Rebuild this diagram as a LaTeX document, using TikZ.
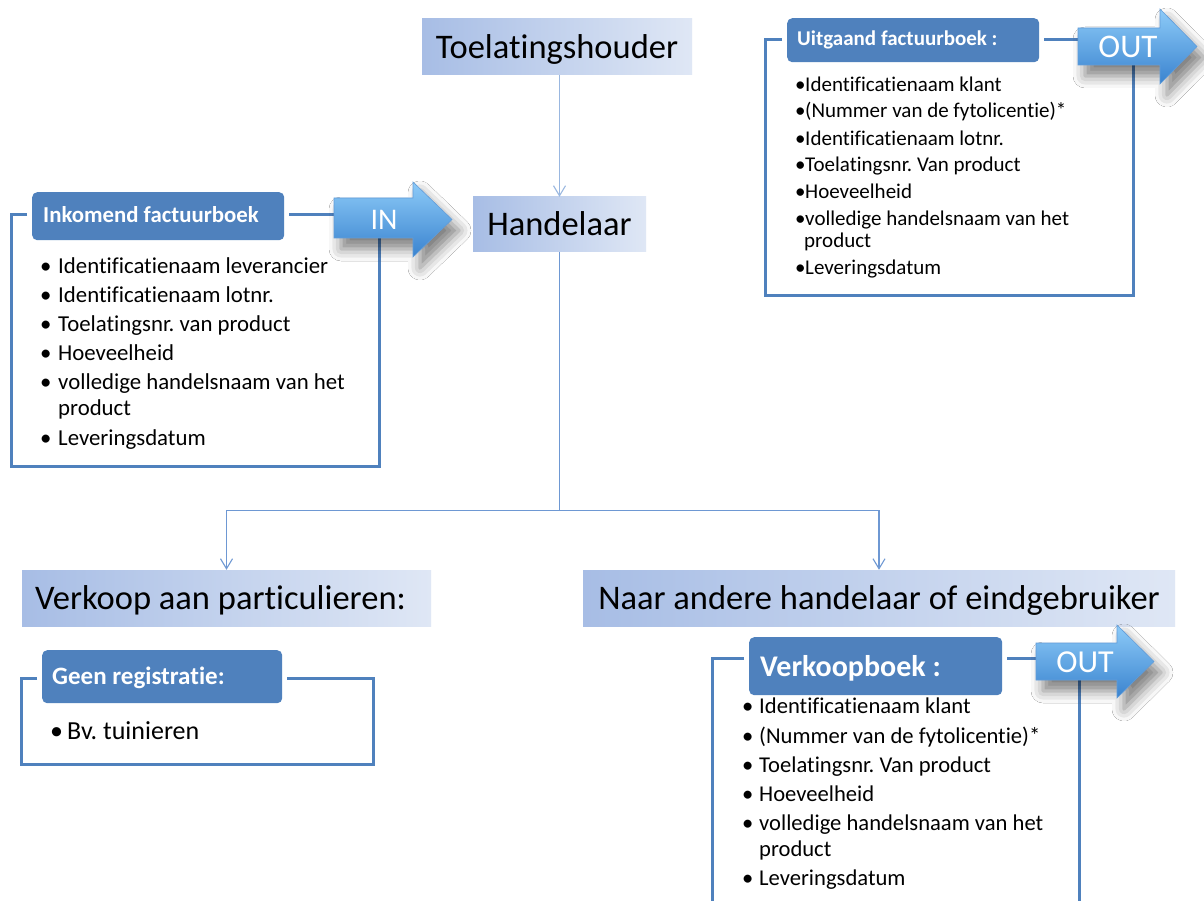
\documentclass[tikz,border=0pt]{standalone}
\usepackage{fontspec}
\setmainfont{Carlito}[Ligatures=NoCommon]
\usetikzlibrary{arrows.meta,shadows.blur}
\definecolor{hblue}{HTML}{4F81BD}
\definecolor{tdark}{HTML}{A7BDE5}
\definecolor{tlight}{HTML}{DFE7F5}
\definecolor{conncol}{HTML}{6E98D3}
\definecolor{arrtop}{HTML}{8DCBF8}
\definecolor{arrbot}{HTML}{3A83CF}
\newcommand\fsz[1]{\fontsize{#1}{#1}\selectfont}
\frenchspacing
\begin{document}
\begin{tikzpicture}[x=1pt,y=-1pt,
  titlebox/.style={left color=tdark,right color=tlight,inner sep=0pt,font=\fsz{34.5},text height=22.5pt,text depth=0pt},
  conn/.style={draw=conncol,line width=1.1pt},
  barb/.style={-{Straight Barb[length=10pt,width=12pt]}},
  frame/.style={draw=hblue,line width=3pt},
  hdr/.style={fill=hblue,rounded corners=5pt,inner sep=0pt,anchor=north west},
  hdrtext/.style={text=white,font=\bfseries,anchor=base west,inner sep=0pt},
  item/.style={anchor=base west,inner sep=0pt},
  fatarrow/.style={top color=arrtop,bottom color=arrbot,draw=arrbot!80!white,line width=0.6pt,
    blur shadow={shadow xshift=7pt,shadow yshift=-11pt,shadow blur radius=12pt,shadow opacity=50}},
  arrtext/.style={text=white,inner sep=0pt}
]
\fill[white] (0,0) rectangle (1204,901);
\useasboundingbox (0,0) rectangle (1204,901);

% title boxes
\node[titlebox,minimum width=270pt,minimum height=56pt] (th) at (557,47) {Toelatingshouder};
\node[titlebox,minimum width=173pt,minimum height=55pt] (ha) at (559.5,224.5) {Handelaar};
\node[titlebox,minimum width=409pt,minimum height=56pt] (vp) at (226.5,598) {\hspace*{-12pt}Verkoop aan particulieren:};
\node[titlebox,minimum width=592pt,minimum height=56pt] (na) at (879,598) {Naar andere handelaar of eindgebruiker};

% connectors
\draw[conn,draw=conncol!70!white,barb] (ha.north |- th.south) -- (ha.north);
\draw[conn] (ha.south) -- ++(0,258) coordinate (split);
\draw[conn,barb] (split) -| (vp.north);
\draw[conn,barb] (split) -| (na.north);

% ---------- Inkomend factuurboek ----------
\draw[frame] (27,215) -- (11,215) -- (11,466) -- (379,466) -- (379,215) -- (289,215);
\node[hdr,minimum width=252pt,minimum height=48pt] (hin) at (32,192) {};
\node[hdrtext,font=\bfseries\fsz{22.8}] (hint) at (43,223) {Inkomend factuurboek};
\path[fatarrow] (334,198) -- (413,198) -- (413,182) -- (452,219.5) -- (413,257) -- (413,238) -- (334,238) -- cycle;
\node[arrtext,font=\fsz{30}] (inlbl) at (384,220) {IN};
\begin{scope}[font=\fsz{22.8}]
\node[item] (a1) at (40,273) {\makebox[18pt][l]{•}Identificatienaam leverancier};
\node[item] (a2) at (40,302) {\makebox[18pt][l]{•}Identificatienaam lotnr.};
\node[item] (a3) at (40,331) {\makebox[18pt][l]{•}Toelatingsnr. van product};
\node[item] (a4) at (40,360) {\makebox[18pt][l]{•}Hoeveelheid};
\node[item] (a5) at (40,389) {\makebox[18pt][l]{•}volledige handelsnaam van het};
\node[item] (a6) at (58,415) {product};
\node[item] (a7) at (40,445) {\makebox[18pt][l]{•}Leveringsdatum};
\end{scope}

% ---------- Uitgaand factuurboek ----------
\draw[frame] (782,40) -- (765,40) -- (765,295) -- (1133,295) -- (1133,40) -- (1044,40);
\node[hdr,minimum width=252pt,minimum height=44pt] (hout) at (787,18) {};
\node[hdrtext,font=\bfseries\fsz{21}] (houtt) at (797,46) {Uitgaand factuurboek :};
\path[fatarrow] (1078,28) -- (1160,28) -- (1160,9) -- (1197,46.5) -- (1160,84) -- (1160,65) -- (1078,65) -- cycle;
\node[arrtext,font=\fsz{33}] (outlbl) at (1128,47) {OUT};
\begin{scope}[font=\fsz{21}]
\node[item] (b1) at (795,92) {\makebox[10pt][l]{•}Identificatienaam klant};
\node[item] (b2) at (795,118) {\makebox[10pt][l]{•}(Nummer van de fytolicentie)*};
\node[item] (b3) at (795,146) {\makebox[10pt][l]{•}Identificatienaam lotnr.};
\node[item] (b4) at (795,172) {\makebox[10pt][l]{•}Toelatingsnr. Van product};
\node[item] (b5) at (795,199) {\makebox[10pt][l]{•}Hoeveelheid};
\node[item] (b6) at (795,226) {\makebox[10pt][l]{•}volledige handelsnaam van het};
\node[item] (b7) at (804,248) {product};
\node[item] (b8) at (795,275) {\makebox[10pt][l]{•}Leveringsdatum};
\end{scope}

% ---------- Geen registratie ----------
\draw[frame] (37,678) -- (21,678) -- (21,764) -- (373,764) -- (373,678) -- (287,678);
\node[hdr,minimum width=240pt,minimum height=53pt] (hgeen) at (42,650) {};
\node[hdrtext,font=\bfseries\fsz{25}] (hgeent) at (52,684) {Geen registratie:};
\node[item,font=\fsz{26}] (c1) at (50,739) {\makebox[17pt][l]{•}Bv. tuinieren};

% ---------- Verkoopboek ----------
\draw[frame] (744,658) -- (712,658) -- (712,905);
\draw[frame] (1079,905) -- (1079,658) -- (1007,658);
\node[hdr,minimum width=253pt,minimum height=58pt] (hvk) at (749,637) {};
\node[hdrtext,font=\bfseries\fsz{30}] (hvkt) at (760,676) {Verkoopboek :};
\path[fatarrow] (1036,643) -- (1117,643) -- (1117,625) -- (1154,661.5) -- (1117,698) -- (1117,680) -- (1036,680) -- cycle;
\node[arrtext,font=\fsz{32}] (outlbl2) at (1085,662) {OUT};
\begin{scope}[font=\fsz{22.6}]
\node[item] (d1) at (742,713) {\makebox[17pt][l]{•}Identificatienaam klant};
\node[item] (d2) at (742,743) {\makebox[17pt][l]{•}(Nummer van de fytolicentie)*};
\node[item] (d3) at (742,772) {\makebox[17pt][l]{•}Toelatingsnr. Van product};
\node[item] (d4) at (742,801) {\makebox[17pt][l]{•}Hoeveelheid};
\node[item] (d5) at (742,830) {\makebox[17pt][l]{•}volledige handelsnaam van het};
\node[item] (d6) at (759,856) {product};
\node[item] (d7) at (742,885) {\makebox[17pt][l]{•}Leveringsdatum};
\end{scope}
\end{tikzpicture}
\end{document}
